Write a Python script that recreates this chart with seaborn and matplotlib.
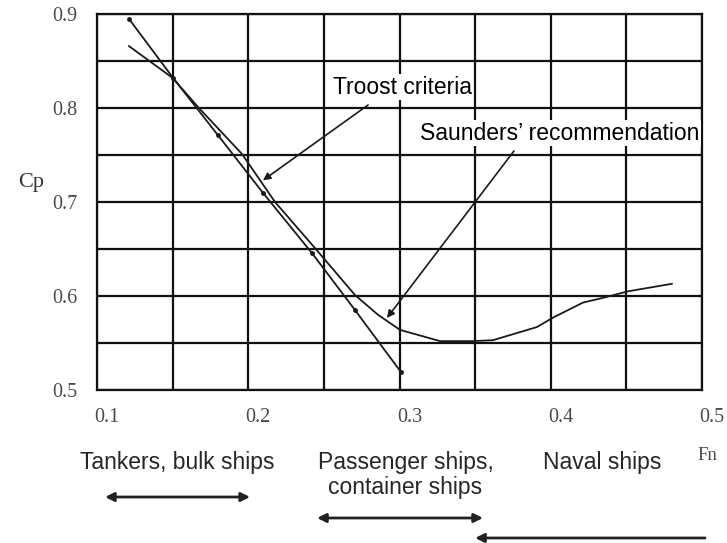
import matplotlib
matplotlib.use("Agg")
import matplotlib.pyplot as plt
import matplotlib.transforms as mtransforms
import seaborn as sns
import pandas as pd

# ---- data ----
fn_line_a = [0.1212, 0.1503, 0.180, 0.2098, 0.2421, 0.2706, 0.301]
cp_line_a = [0.8947, 0.832, 0.771, 0.7096, 0.6457, 0.585, 0.519]

fn_line_b = [0.121, 0.150, 0.1668, 0.1959, 0.2177, 0.2441, 0.2706, 0.2858, 0.3003,
             0.3268, 0.3486, 0.3618, 0.3909, 0.4015, 0.4213, 0.4345, 0.4511, 0.4802]
cp_line_b = [0.866, 0.832, 0.801, 0.751, 0.700, 0.651, 0.601, 0.580, 0.564,
             0.552, 0.552, 0.553, 0.567, 0.577, 0.593, 0.598, 0.605, 0.613]

x_ticks = [0.1, 0.2, 0.3, 0.4, 0.5]
x_ticklabels = ["0.1", "0.2", "0.3", "0.4", "0.5"]
y_ticks = [0.5, 0.6, 0.7, 0.8, 0.9]
y_ticklabels = ["0.5", "0.6", "0.7", "0.8", "0.9"]
grid_minor_x = [0.15, 0.25, 0.35, 0.45]
grid_minor_y = [0.55, 0.65, 0.75, 0.85]

label_troost = "Troost criteria"
label_saunders = "Saunders\u2019 recommendation"
ship_labels = ["Tankers, bulk ships", "Passenger ships,\ncontainer ships", "Naval ships"]

df_a = pd.DataFrame({"Fn": fn_line_a, "Cp": cp_line_a})
df_b = pd.DataFrame({"Fn": fn_line_b, "Cp": cp_line_b})

sns.set_style("white")
plt.rcParams["font.family"] = ["Liberation Sans", "DejaVu Sans"]

fig = plt.figure(figsize=(7.27, 5.43), dpi=100)
ax = fig.add_axes([97 / 727, 1 - 390 / 543, (702 - 97) / 727, (390 - 14) / 543])

line_color = "#1a1a1a"
sns.lineplot(data=df_a, x="Fn", y="Cp", ax=ax, color=line_color, linewidth=1.3,
             marker="o", markersize=3.5, markeredgewidth=0, sort=False)
sns.lineplot(data=df_b, x="Fn", y="Cp", ax=ax, color=line_color, linewidth=1.3, sort=False)

ax.set_xlim(0.1, 0.5)
ax.set_ylim(0.5, 0.9)
ax.set_xticks(x_ticks)
ax.set_xticklabels(x_ticklabels)
ax.set_yticks(y_ticks)
ax.set_yticklabels(y_ticklabels)
ax.set_xticks(grid_minor_x, minor=True)
ax.set_yticks(grid_minor_y, minor=True)
ax.grid(True, which="both", color="#111111", linewidth=1.6)
ax.set_axisbelow(True)
ax.tick_params(which="both", length=0)
ax.tick_params(axis="x", pad=13)
ax.tick_params(axis="y", pad=14)
for sp in ax.spines.values():
    sp.set_visible(True)
    sp.set_color("#111111")
    sp.set_linewidth(1.6)

serif = ["Liberation Serif", "DejaVu Serif"]
for lab in ax.get_xticklabels() + ax.get_yticklabels():
    lab.set_fontfamily(serif)
    lab.set_fontsize(14.5)
    lab.set_color("#4a4a4a")
shift = mtransforms.ScaledTranslation(10 / 100, 0, fig.dpi_scale_trans)
for lab in ax.get_xticklabels():
    lab.set_transform(lab.get_transform() + shift)

ax.set_xlabel("")
ax.set_ylabel("")
fig.text(31 / 727, 1 - 182 / 543, "Cp", ha="center", va="center",
         family=serif, fontsize=16, color="#333333")
ax.text(0.5033, -0.173, "Fn", transform=ax.get_xaxis_transform(), ha="center", va="center",
        family=serif, fontsize=13.5, color="#444444")

# annotations
ax.text(0.256, 0.8223, label_troost, ha="left", va="center", fontsize=16.5, color="black",
        bbox=dict(facecolor="white", edgecolor="none", pad=1), zorder=5)
ax.annotate("", xy=(0.2097, 0.723), xytext=(0.2792, 0.8032),
            arrowprops=dict(arrowstyle="-|>", color=line_color, lw=1.2, mutation_scale=11,
                            shrinkA=0, shrinkB=0), zorder=6)
ax.text(0.3136, 0.7734, label_saunders, ha="left", va="center", fontsize=16.5, color="black",
        bbox=dict(facecolor="white", edgecolor="none", pad=1), zorder=5)
ax.annotate("", xy=(0.2917, 0.5766), xytext=(0.3757, 0.7543),
            arrowprops=dict(arrowstyle="-|>", color=line_color, lw=1.2, mutation_scale=11,
                            shrinkA=0, shrinkB=0), zorder=6)

# ship type labels and ranges below the axis
xt = ax.get_xaxis_transform()
ax.text(0.1532, -0.1915, ship_labels[0], transform=xt, ha="center", va="center", fontsize=16.5)
ax.text(0.304, -0.226, ship_labels[1], transform=xt, ha="center", va="center", fontsize=16.5,
        linespacing=1.1)
ax.text(0.4342, -0.1915, ship_labels[2], transform=xt, ha="center", va="center", fontsize=16.5)

arrow_kw = dict(color="#222222", lw=2.0, mutation_scale=13, shrinkA=0, shrinkB=0)
ax.annotate("", xy=(0.1053, -0.2846), xytext=(0.2012, -0.2846), xycoords=xt, textcoords=xt,
            arrowprops=dict(arrowstyle="<|-|>", **arrow_kw), annotation_clip=False)
ax.annotate("", xy=(0.2455, -0.3404), xytext=(0.3552, -0.3404), xycoords=xt, textcoords=xt,
            arrowprops=dict(arrowstyle="<|-|>", **arrow_kw), annotation_clip=False)
ax.annotate("", xy=(0.350, -0.3936), xytext=(0.502, -0.3936), xycoords=xt, textcoords=xt,
            arrowprops=dict(arrowstyle="-|>", **arrow_kw), annotation_clip=False)

fig.savefig("out.png", dpi=100)
